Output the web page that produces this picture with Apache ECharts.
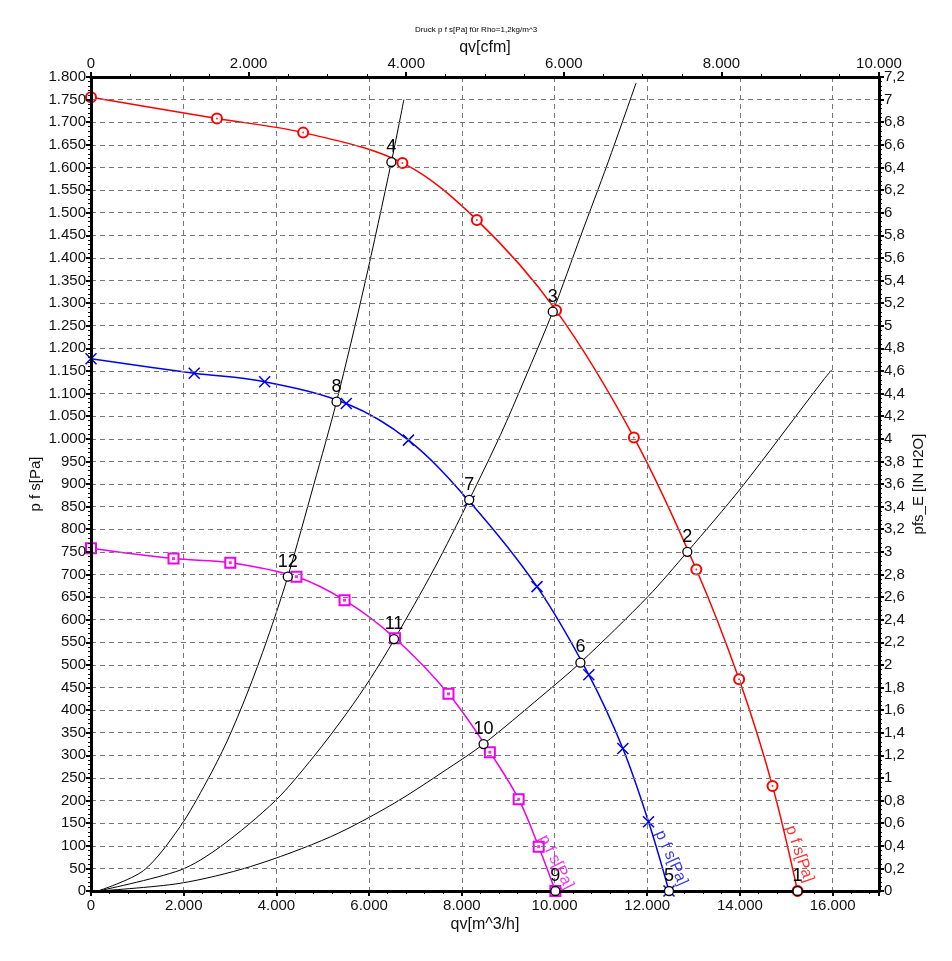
<!DOCTYPE html>
<html><head><meta charset="utf-8">
<script src="https://cdn.jsdelivr.net/npm/echarts@6.0.0/dist/echarts.min.js"></script>
<style>html,body{margin:0;padding:0;background:#fff}#c{width:952px;height:961px}</style>
</head><body><div id="c"></div>
<script>
const titleText = 'Druck p f s[Pa] für Rho=1,2kg/m^3';
const xName = 'qv[m^3/h]';
const x2Name = 'qv[cfm]';
const yName = 'p f s[Pa]';
const y2Name = 'pfs_E [IN H2O]';
const curveLabel = 'p f s[Pa]';

// axis ranges
const xRange = [0, 17000, 2000];
const x2Range = [0, 10000, 2000];
const yRange = [0, 1800, 50];
const y2Range = [0, 7.2, 0.2];

// fan curves (marker points)
const redQ = [0, 2717, 4577, 6718, 8324, 10032, 11712, 13059, 13982, 14703, 15243];
const redP = [1755, 1708, 1677, 1610, 1484, 1284, 1003, 711, 468, 232, 0];
const blueQ = [0, 2227, 3747, 5507, 6849, 8159, 9622, 10740, 11474, 12028, 12469];
const blueP = [1177, 1145, 1126, 1078, 997, 862, 673, 478, 315, 153, 0];
const magQ = [0, 1780, 3005, 4432, 5470, 6558, 7712, 8605, 9226, 9658, 10018];
const magP = [758, 735, 726, 695, 643, 559, 436, 307, 203, 98, 0];

// system curves
const sysAQ = [150, 1130, 1920, 2500, 2930, 3370, 3800, 4245, 4810, 5297, 5900, 6480, 6750];
const sysAP = [0, 45, 142, 243, 330, 437, 556, 695, 900, 1082, 1340, 1612, 1750];
const sysBQ = [150, 1920, 2790, 3980, 4810, 5530, 6030, 6537, 7400, 8159, 8840, 9348, 9962, 10570, 11150, 11760];
const sysBP = [0, 46, 98, 200, 298, 395, 470, 555, 712, 865, 1010, 1130, 1281, 1450, 1610, 1787];
const sysCQ = [150, 1920, 3440, 5170, 6540, 7690, 8469, 9710, 10558, 12015, 12865, 14030, 15800, 15978];
const sysCP = [0, 17, 54, 120, 194, 270, 325, 430, 505, 651, 750, 892, 1130, 1152];

// operating points
const opQ = [15243, 12865, 9962, 6480, 12469, 10558, 8159, 5297, 10018, 8469, 6537, 4245];
const opP = [0, 750, 1281, 1612, 0, 505, 865, 1082, 0, 325, 557, 695];
const opLabels = ['1','2','3','4','5','6','7','8','9','10','11','12'];

// curve name label anchors
const nameQ = [15286, 12519, 10032];
const nameP = [82, 73, 64];

const RED = '#ff0000', BLUE = '#0000ee', MAG = '#ee00ee';
const NARROW = "'Liberation Sans Narrow', 'Liberation Sans', Arial, sans-serif";
const SANS = "'Liberation Sans', Arial, sans-serif";

const zip = (a, b) => a.map((v, i) => [v, b[i]]);
const thousands = v => {
  v = Math.round(v);
  if (v < 1000) return String(v);
  const r = v % 1000;
  return Math.floor(v / 1000) + '.' + String(r).padStart(3, '0');
};
const comma = v => String(Math.round(v * 10) / 10).replace('.', ',');

const axisLineStyle = {show: true, onZero: false, lineStyle: {color: '#000', width: 3}};
const tick = {show: true, length: 5, lineStyle: {color: '#000', width: 2}};
const minor = (n) => ({show: true, splitNumber: n, length: 3, lineStyle: {color: '#000', width: 1}});
const grid = {show: true, lineStyle: {type: [5, 4], color: '#777', width: 1}};

const chart = echarts.init(document.getElementById('c'), null, {renderer: 'canvas'});
chart.setOption({
  animation: false,
  backgroundColor: '#fff',
  title: {text: titleText, left: 'center', top: 21, textStyle: {fontSize: 8, fontWeight: 'normal', fontFamily: NARROW, color: '#000'}},
  grid: {left: 91, right: 73, top: 77, bottom: 70, containLabel: false, outerBoundsMode: 'none'},
  xAxis: [
    {type: 'value', position: 'bottom', min: xRange[0], max: xRange[1], interval: xRange[2],
     name: xName, nameLocation: 'middle', nameGap: 26, nameMoveOverlap: false,
     nameTextStyle: {fontFamily: NARROW, fontSize: 16, color: '#111'},
     axisLine: axisLineStyle, axisTick: tick, minorTick: minor(5),
     axisLabel: {formatter: thousands, fontFamily: NARROW, fontSize: 15, color: '#111', margin: 7, showMaxLabel: false},
     splitLine: grid, z: 5},
    {type: 'value', position: 'top', min: x2Range[0], max: x2Range[1], interval: x2Range[2],
     name: x2Name, nameLocation: 'middle', nameGap: 21, nameMoveOverlap: false,
     nameTextStyle: {fontFamily: NARROW, fontSize: 16, color: '#111'},
     axisLine: axisLineStyle, axisTick: tick, minorTick: minor(4),
     axisLabel: {formatter: thousands, fontFamily: NARROW, fontSize: 15, color: '#111', margin: 6},
     splitLine: {show: false}, z: 5}
  ],
  yAxis: [
    {type: 'value', position: 'left', min: yRange[0], max: yRange[1], interval: yRange[2],
     name: yName, nameLocation: 'middle', nameGap: 48, nameRotate: 90, nameMoveOverlap: false,
     nameTextStyle: {fontFamily: SANS, fontSize: 15, color: '#111'},
     axisLine: axisLineStyle, axisTick: tick, minorTick: minor(5),
     axisLabel: {formatter: thousands, fontFamily: SANS, fontSize: 15, color: '#111', margin: 5},
     splitLine: grid, z: 5},
    {type: 'value', position: 'right', min: y2Range[0], max: y2Range[1], interval: y2Range[2],
     name: y2Name, nameLocation: 'middle', nameGap: 32, nameRotate: 90, nameMoveOverlap: false,
     nameTextStyle: {fontFamily: SANS, fontSize: 15, color: '#111'},
     axisLine: axisLineStyle, axisTick: tick, minorTick: minor(5),
     axisLabel: {formatter: comma, fontFamily: SANS, fontSize: 15, color: '#111', margin: 5},
     splitLine: {show: false}, z: 5}
  ],
  series: [
    {type: 'line', data: zip(sysAQ, sysAP), smooth: 0.3, showSymbol: false, lineStyle: {color: '#000', width: 1}, z: 2},
    {type: 'line', data: zip(sysBQ, sysBP), smooth: 0.3, showSymbol: false, lineStyle: {color: '#000', width: 1}, z: 2},
    {type: 'line', data: zip(sysCQ, sysCP), smooth: 0.3, showSymbol: false, lineStyle: {color: '#000', width: 1}, z: 2},
    {type: 'line', data: zip(redQ, redP), smooth: 0.35, symbol: 'emptyCircle', symbolSize: 10,
     itemStyle: {color: RED, borderColor: RED, borderWidth: 1.3}, lineStyle: {color: RED, width: 1.5}, z: 3},
    {type: 'scatter', data: zip(redQ, redP), symbol: 'circle', symbolSize: 2, itemStyle: {color: RED}, z: 4},
    {type: 'line', data: zip(blueQ, blueP), smooth: 0.35, symbol: 'path://M0,0L10,10M10,0L0,10', symbolSize: 11,
     itemStyle: {color: 'none', borderColor: BLUE, borderWidth: 1.5}, lineStyle: {color: BLUE, width: 1.5}, z: 3},
    {type: 'line', data: zip(magQ, magP), smooth: 0.35, symbol: 'rect', symbolSize: 10,
     itemStyle: {color: '#fff', borderColor: MAG, borderWidth: 2}, lineStyle: {color: MAG, width: 1.5}, z: 3},
    {type: 'scatter', data: zip(magQ, magP), symbol: 'rect', symbolSize: 3, itemStyle: {color: MAG}, z: 4},
    {type: 'scatter', data: opQ.map((q, i) => ({value: [q, opP[i]], name: opLabels[i]})),
     symbol: 'circle', symbolSize: 9,
     itemStyle: {color: '#fff', borderColor: '#000', borderWidth: 1.3, opacity: 1},
     label: {show: true, position: 'top', distance: 1, formatter: p => p.name, fontFamily: SANS, fontSize: 18, color: '#000'},
     emphasis: {disabled: true},
     z: 6},
    {type: 'scatter', symbolSize: 0, z: 6,
     data: [
       {value: [nameQ[0], nameP[0]], label: {color: RED, rotate: -71}},
       {value: [nameQ[1], nameP[1]], label: {color: BLUE, rotate: -66}},
       {value: [nameQ[2], nameP[2]], label: {color: MAG, rotate: -63}}
     ],
     label: {show: true, position: 'inside', formatter: curveLabel, fontFamily: SANS, fontSize: 16, align: 'center', verticalAlign: 'middle'}}
  ]
});
</script></body></html>
